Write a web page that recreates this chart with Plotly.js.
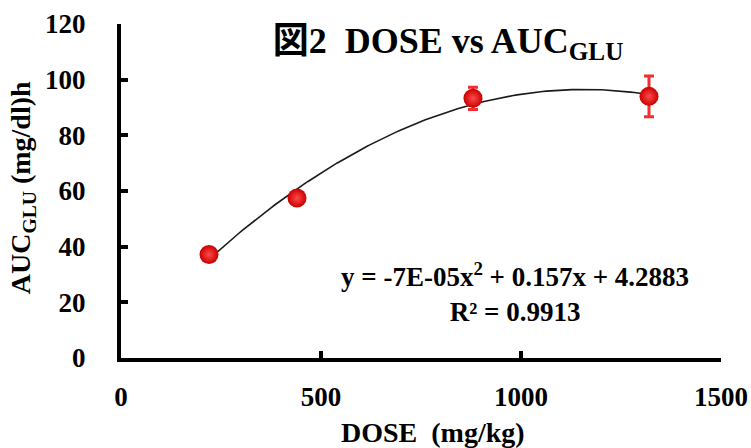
<!DOCTYPE html>
<html>
<head>
<meta charset="utf-8">
<script src="https://cdn.plot.ly/plotly-3.0.1.min.js"></script>
<style>
  html, body { margin: 0; padding: 0; background: #ffffff; }
  #chart { width: 751px; height: 448px; }
</style>
</head>
<body>
<div id="chart"></div>
<script>
// Dose (mg/kg) and mean AUC of glucose, with error bar half-widths
var doses = [220, 440, 880, 1320];
var aucGlu = [37.2, 57.5, 93.3, 94.0];
var aucErr = [1.5, 2.0, 4.0, 7.3];

var xTicks = [0, 500, 1000, 1500];
var yTicks = [0, 20, 40, 60, 80, 100, 120];

var equationText = 'y = -7E-05x<sup>2</sup> + 0.157x + 4.2883';
var r2Text = 'R² = 0.9913';

// Least-squares quadratic fit of the data (polynomial trendline, order 2)
function quadFit(xs, ys) {
  var s = [0, 0, 0, 0, 0], t = [0, 0, 0];
  for (var i = 0; i < xs.length; i++) {
    var p = 1;
    for (var k = 0; k < 5; k++) { s[k] += p; if (k < 3) t[k] += p * ys[i]; p *= xs[i]; }
  }
  // Normal equations: M * [c, b, a] = t
  var M = [[s[0], s[1], s[2]], [s[1], s[2], s[3]], [s[2], s[3], s[4]]];
  var v = t.slice();
  for (var c = 0; c < 3; c++) {
    for (var r = c + 1; r < 3; r++) {
      var f = M[r][c] / M[c][c];
      for (var j = c; j < 3; j++) M[r][j] -= f * M[c][j];
      v[r] -= f * v[c];
    }
  }
  var sol = [0, 0, 0];
  for (var r2 = 2; r2 >= 0; r2--) {
    var acc = v[r2];
    for (var j2 = r2 + 1; j2 < 3; j2++) acc -= M[r2][j2] * sol[j2];
    sol[r2] = acc / M[r2][r2];
  }
  return sol; // [c, b, a]
}

var coef = quadFit(doses, aucGlu);
var fitX = [], fitY = [];
var x0 = doses[0], x1 = doses[doses.length - 1];
for (var i = 0; i <= 120; i++) {
  var xv = x0 + (x1 - x0) * i / 120;
  fitX.push(xv);
  fitY.push(coef[0] + coef[1] * xv + coef[2] * xv * xv);
}

var serif = 'Liberation Serif, Times New Roman, Noto Sans CJK JP, serif';

var traces = [
  {
    x: fitX, y: fitY, type: 'scatter', mode: 'lines',
    line: { color: '#1a1a1a', width: 1.6 },
    hoverinfo: 'skip', showlegend: false
  },
  {
    x: doses, y: aucGlu, type: 'scatter', mode: 'markers',
    marker: {
      size: 19, color: '#c80000',
      gradient: { type: 'radial', color: '#ff4a4a' },
      line: { width: 0 }
    },
    error_y: { type: 'data', array: aucErr, visible: true, color: '#ee3030', thickness: 3, width: 5 },
    showlegend: false
  }
];

var axisCommon = {
  showline: true, linecolor: '#000000', linewidth: 4,
  ticks: 'inside', ticklen: 7, tickwidth: 4, tickcolor: '#000000',
  showgrid: false, zeroline: false, mirror: false,
  tickfont: { family: serif, size: 27, color: '#000000', weight: 'bold' }
};

var layout = {
  width: 751, height: 448,
  paper_bgcolor: '#ffffff', plot_bgcolor: '#ffffff',
  margin: { l: 121, r: 30, t: 24, b: 90 },
  font: { family: serif, color: '#000000' },
  title: {
    text: '図2  DOSE vs AUC<sub>GLU</sub>',
    font: { family: serif, size: 36, color: '#000000', weight: 'bold' },
    xref: 'paper', x: 0.545, xanchor: 'center',
    yref: 'container', y: 0.91, yanchor: 'middle'
  },
  xaxis: Object.assign({}, axisCommon, {
    range: [0, 1500], tickvals: xTicks, ticklabelstandoff: 12
  }),
  yaxis: Object.assign({}, axisCommon, {
    range: [0, 120], tickvals: yTicks, ticklabelstandoff: 26
  }),
  annotations: [
    {
      text: equationText + '<br>' + r2Text,
      xref: 'paper', yref: 'paper', x: 0.657, y: 0.195,
      xanchor: 'center', yanchor: 'middle', showarrow: false, align: 'center',
      font: { family: serif, size: 27, color: '#000000', weight: 'bold' }
    },
    {
      text: 'DOSE  (mg/kg)',
      xref: 'paper', yref: 'paper', x: 0.52, y: -0.222,
      xanchor: 'center', yanchor: 'middle', showarrow: false,
      font: { family: serif, size: 28, color: '#000000', weight: 'bold' }
    },
    {
      text: 'AUC<sub>GLU</sub> (mg/dl)h',
      xref: 'paper', yref: 'paper', x: -0.164, y: 0.51,
      xanchor: 'center', yanchor: 'middle', showarrow: false, textangle: -90,
      font: { family: serif, size: 28, color: '#000000', weight: 'bold' }
    }
  ]
};

Plotly.newPlot('chart', traces, layout, { displayModeBar: false, staticPlot: true });
</script>
</body>
</html>
